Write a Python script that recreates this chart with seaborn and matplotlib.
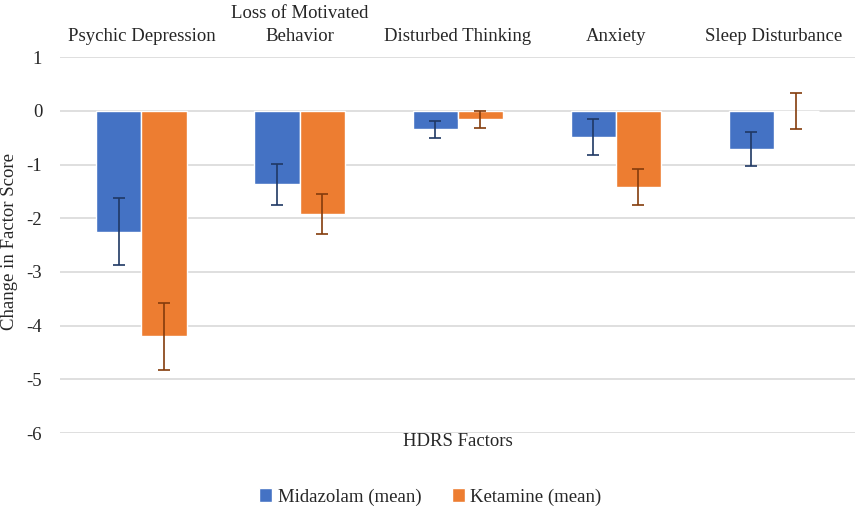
import pandas as pd
import numpy as np
import matplotlib
matplotlib.use("Agg")
import matplotlib.pyplot as plt
import seaborn as sns

# ===============================
# DATA
# ===============================
factors = ["Psychic Depression", "Loss of Motivated\nBehavior", "Disturbed Thinking",
           "Anxiety", "Sleep Disturbance"]
midazolam_mean = [-2.25, -1.37, -0.34, -0.49, -0.71]
midazolam_err = [0.62, 0.38, 0.16, 0.33, 0.32]
ketamine_mean = [-4.20, -1.92, -0.16, -1.42, 0.0]
ketamine_err = [0.62, 0.37, 0.15, 0.33, 0.33]
series = ["Midazolam (mean)", "Ketamine (mean)"]

BAR_COLORS = ["#4472C4", "#ED7D31"]
ERR_COLORS = ["#1F3864", "#843C0C"]

df = pd.DataFrame({
    "factor": factors * 2,
    "value": midazolam_mean + ketamine_mean,
    "drug": [series[0]] * len(factors) + [series[1]] * len(factors),
})
errs = [midazolam_err, ketamine_err]

# ===============================
# PLOT
# ===============================
sns.set_style("white")
plt.rcParams["font.family"] = ["Liberation Serif", "DejaVu Serif"]
plt.rcParams["axes.unicode_minus"] = False

fig = plt.figure(figsize=(8.61, 5.15), dpi=100)
ax = fig.add_axes([0.07, 0.159, 0.923, 0.730])

sns.barplot(data=df, x="factor", y="value", hue="drug", palette=BAR_COLORS,
            width=0.57, errorbar=None, saturation=1, ax=ax, zorder=2)

bar_conts = list(ax.containers)
for i, cont in enumerate(bar_conts):
    xs = [p.get_x() + p.get_width() / 2 for p in cont.patches]
    means = midazolam_mean if i == 0 else ketamine_mean
    ax.errorbar(xs, means, yerr=errs[i], fmt="none", ecolor=ERR_COLORS[i],
                elinewidth=1.2, capsize=4, capthick=1.2, zorder=3)

ax.set_ylim(-6, 1)
ax.set_yticks(range(-6, 2))
ax.yaxis.grid(True, color="#D9D9D9", linewidth=1.2, zorder=0)
ax.set_axisbelow(True)
for s in ax.spines.values():
    s.set_visible(False)

ax.xaxis.tick_top()
ax.tick_params(axis="x", length=0, pad=9, labelsize=13.5, colors="#262626")
for lab in ax.get_xticklabels():
    lab.set_linespacing(1.45)
ax.tick_params(axis="y", length=0, pad=13, labelsize=13.5, colors="#262626")
ax.set_xlabel("")
ax.set_ylabel("Change in Factor Score", fontsize=13.5, color="#262626")
ax.yaxis.set_label_coords(-0.053, 0.51)
fig.text(0.532, 0.142, "HDRS Factors", ha="center", va="center", fontsize=13.5, color="#262626")

handles, labels = ax.get_legend_handles_labels()
ax.legend_.remove()
fig.legend(handles, labels, loc="center", bbox_to_anchor=(0.5, 0.035), ncol=2,
           frameon=False, fontsize=13.5, handlelength=0.7, handleheight=0.7,
           handletextpad=0.3, columnspacing=1.6)

fig.savefig("out.png", dpi=100)
